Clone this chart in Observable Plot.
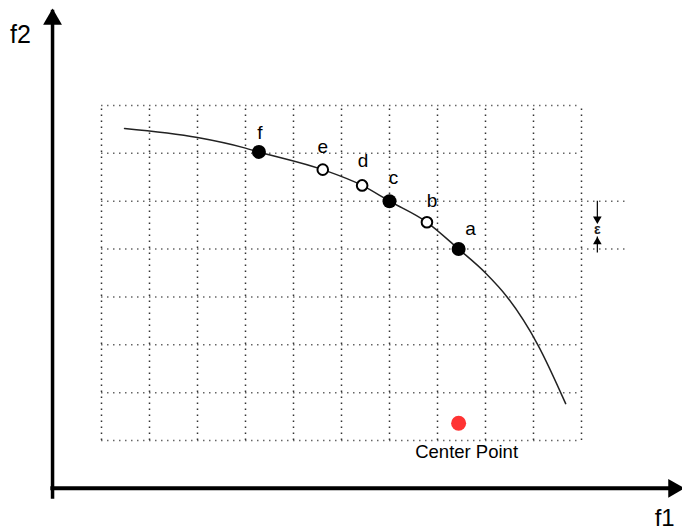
<!DOCTYPE html>
<html>
<head>
<meta charset="utf-8">
<script src="https://cdn.jsdelivr.net/npm/d3@7"></script>
<script src="https://cdn.jsdelivr.net/npm/@observablehq/plot@0.6"></script>
<style>
  html, body { margin: 0; padding: 0; background: #fff; }
  svg { display: block; }
</style>
</head>
<body>
<div id="chart"></div>
<script>
// ---- data (grid units: one cell = 1) ----
const gridF1 = [0, 1, 2, 3, 4, 5, 6, 7, 8, 9, 10];
const gridF2 = [0, 1, 2, 3, 4, 5, 6, 7];
const epsilonF2 = [4, 5];

const frontierF1 = [0.48, 2.0, 2.96, 3.28, 4.61, 5.43, 6.0, 6.78, 7.44, 8.0, 8.45, 9.09, 9.67];
const frontierF2 = [6.52, 6.33, 6.12, 6.03, 5.66, 5.33, 5.0, 4.56, 4.0, 3.5, 3.0, 2.0, 0.77];

const pointLabels = ["f", "e", "d", "c", "b", "a"];
const pointF1 = [3.28, 4.61, 5.43, 6.0, 6.78, 7.44];
const pointF2 = [6.03, 5.66, 5.33, 5.0, 4.56, 4.0];
const pointKind = ["filled", "open", "open", "filled", "open", "filled"];

const centerLabel = ["Center Point"];
const centerF1 = [7.44];
const centerF2 = [0.36];

const axisLabels = ["f1", "f2"];

// ---- tables built from arrays ----
const frontier = frontierF1.map((x, i) => ({x, y: frontierF2[i]}));
const points = pointLabels.map((label, i) => ({label, x: pointF1[i], y: pointF2[i], kind: pointKind[i]}));
const center = centerLabel.map((label, i) => ({label, x: centerF1[i], y: centerF2[i]}));

// layout constants (decoration)
const ox = -1.02, oy = -1.0;   // axes origin
const xTip = 12.15, yTip = 9.03;
const epsX = 10.33;
const labelOffsets = {f: [1, -13], e: [0, -17], d: [1, -18], c: [4, -17], b: [5, -15], a: [12, -14]};

const dash = "1.5,4.5";

const chart = Plot.plot({
  width: 682,
  height: 532,
  margin: 0,
  style: {fontFamily: "Liberation Sans, Arial, sans-serif", background: "#fff", color: "#000"},
  x: {domain: [0, 10], range: [101, 581], axis: null},
  y: {domain: [0, 7], range: [440, 105], axis: null},
  marks: [
    // grid
    Plot.ruleY(gridF2, {x1: 0, x2: 10, stroke: "#666", strokeWidth: 1.5, strokeDasharray: dash}),
    Plot.ruleX(gridF1, {y1: 0, y2: 7, stroke: "#333", strokeWidth: 1.5, strokeDasharray: dash}),
    Plot.ruleY(epsilonF2, {x1: 10, x2: 10.94, stroke: "#666", strokeWidth: 1.5, strokeDasharray: dash}),

    // epsilon arrows
    Plot.ruleX([epsX], {y1: 5, y2: 4.53, stroke: "#000", strokeWidth: 1.2, insetBottom: 4}),
    Plot.dot([[epsX, 4.53]], {symbol: "triangle", r: 3.2, fill: "#000", stroke: "none", rotate: 180, dy: -4.6}),
    Plot.ruleX([epsX], {y1: 4, y2: 4.25, stroke: "#000", strokeWidth: 1.2, insetTop: 4}),
    Plot.dot([[epsX, 4.25]], {symbol: "triangle", r: 3.2, fill: "#000", stroke: "none", dy: 4.6}),
    Plot.text(["ε"], {x: epsX, y: 4.4, fontSize: 14, fontWeight: "bold", fill: "#222", textAnchor: "middle", lineAnchor: "middle"}),

    // axes
    Plot.ruleX([ox], {y1: oy, y2: yTip, stroke: "#000", strokeWidth: 3.5, insetTop: 11, insetBottom: -2}),
    Plot.dot([[ox, yTip]], {symbol: "triangle", r: 7, fill: "#000", stroke: "none", dy: 11}),
    Plot.ruleY([oy], {x1: ox, x2: xTip, stroke: "#000", strokeWidth: 4, insetRight: 11, insetLeft: -1.7}),
    Plot.dot([[xTip, oy]], {symbol: "triangle", r: 7, fill: "#000", stroke: "none", rotate: 90, dx: -11}),
    Plot.text([axisLabels[1]], {x: ox, y: yTip, dx: -32, dy: 35, fontSize: 25, textAnchor: "middle", lineAnchor: "bottom", fill: "#000"}),
    Plot.text([axisLabels[0]], {x: xTip, y: oy, dx: -20, dy: 38, fontSize: 24, textAnchor: "middle", lineAnchor: "bottom", fill: "#000"}),

    // frontier curve
    Plot.line(frontier, {x: "x", y: "y", curve: "monotone-x", stroke: "#222", strokeWidth: 1.5}),

    // points
    Plot.dot(points.filter(d => d.kind === "filled"), {x: "x", y: "y", r: 7, fill: "#000", stroke: "none"}),
    Plot.dot(points.filter(d => d.kind === "open"), {x: "x", y: "y", r: 5.3, fill: "#fff", stroke: "#000", strokeWidth: 2}),
    ...points.map(p => Plot.text([p], {x: "x", y: "y", text: "label", dx: labelOffsets[p.label][0], dy: labelOffsets[p.label][1], fontSize: 19, textAnchor: "middle", lineAnchor: "bottom", fill: "#000"})),

    // center point
    Plot.dot(center, {x: "x", y: "y", r: 7.5, fill: "#ff3333", stroke: "none"}),
    Plot.text(center, {x: "x", y: "y", text: "label", dx: 8, dy: 35, fontSize: 18.5, textAnchor: "middle", lineAnchor: "bottom", fill: "#000"})
  ]
});
document.getElementById("chart").appendChild(chart);
</script>
</body>
</html>
